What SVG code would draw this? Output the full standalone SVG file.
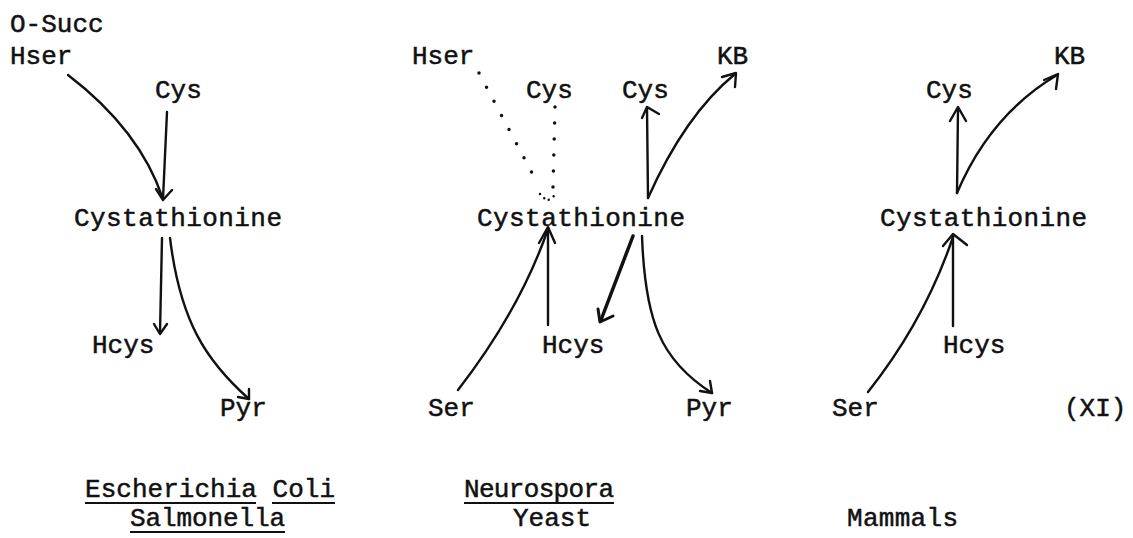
<svg xmlns="http://www.w3.org/2000/svg" width="1133" height="538" viewBox="0 0 1133 538">
<style>
text{font-family:"Liberation Mono","DejaVu Sans Mono",monospace;font-size:26px;fill:#111;stroke:#111;stroke-width:0.5}
.c{fill:none;stroke:#111;stroke-width:2.4;stroke-linecap:round;stroke-linejoin:round}
.d{fill:none;stroke:#111;stroke-width:3.5;stroke-linecap:round;stroke-dasharray:0 16}
.u{stroke:#111;stroke-width:2}
</style>
<rect width="1133" height="538" fill="#fff"/>
<g id="ecoli">
<g id="n-osucc"><text x="10" y="32">O-Succ</text><text x="10" y="64">Hser</text></g>
<g id="n-cys1"><text x="155" y="98">Cys</text></g>
<g id="n-cysta1"><text x="74" y="226" textLength="208">Cystathionine</text></g>
<g id="n-hcys1"><text x="92" y="353">Hcys</text></g>
<g id="n-pyr1"><text x="220" y="416">Pyr</text></g>
<g id="n-lab1"><text x="85" y="497" textLength="250">Escherichia Coli</text>
<line class="u" x1="85" y1="503" x2="256" y2="503"/><line class="u" x1="272" y1="503" x2="335" y2="503"/>
<text x="130" y="526" textLength="155">Salmonella</text>
<line class="u" x1="130" y1="532" x2="285" y2="532"/></g>
</g>
<g id="neurospora">
<g id="n-hser2"><text x="412" y="64">Hser</text></g>
<g id="n-cys2a"><text x="526" y="98">Cys</text></g>
<g id="n-cys2b"><text x="622" y="98">Cys</text></g>
<g id="n-kb2"><text x="717" y="64">KB</text></g>
<g id="n-cysta2"><text x="477" y="226" textLength="208">Cystathionine</text></g>
<g id="n-hcys2"><text x="542" y="353">Hcys</text></g>
<g id="n-ser2"><text x="428" y="416">Ser</text></g>
<g id="n-pyr2"><text x="686" y="416">Pyr</text></g>
<g id="n-lab2"><text x="464" y="497" textLength="150">Neurospora</text>
<line class="u" x1="464" y1="503" x2="614" y2="503"/>
<text x="513" y="526">Yeast</text></g>
</g>
<g id="mammals">
<g id="n-cys3"><text x="926" y="98">Cys</text></g>
<g id="n-kb3"><text x="1054" y="64">KB</text></g>
<g id="n-cysta3"><text x="880" y="226" textLength="207">Cystathionine</text></g>
<g id="n-hcys3"><text x="943" y="353">Hcys</text></g>
<g id="n-ser3"><text x="832" y="416">Ser</text></g>
<g id="n-xi"><text x="1064" y="416">(XI)</text></g>
<g id="n-lab3"><text x="847" y="526" textLength="111">Mammals</text></g>
</g>
<g id="connectors">
<!-- E. coli -->
<path class="c" d="M68,75 Q140,130 163,199"/>
<path class="c" d="M167,112 L163,199"/>
<path class="c" d="M156,189 L163,200 L172,190"/>
<path class="c" d="M162,238 L160,333"/>
<path class="c" d="M154,324 L160,334 L167,324"/>
<path class="c" d="M170,238 C180,320 205,360 249,399"/>
<path class="c" d="M238,397 L249,399 L249,389"/>
<!-- Neurospora -->
<path class="d" d="M479,73 L539,186"/>
<path class="d" d="M555,107 L553,187"/>
<path fill="none" stroke="#111" stroke-width="2.5" stroke-linecap="round" stroke-dasharray="0 6" d="M540,194 L547,201 L557,194"/>
<path class="c" d="M458,390 Q520,310 548,229"/>
<path class="c" d="M548,325 L548,229"/>
<path class="c" d="M539,243 L548,227 L555,243"/>
<path class="c" d="M648,198 L647,108"/>
<path class="c" d="M642,118 L647,107 L659,114"/>
<path class="c" d="M648,198 Q685,115 735,74"/>
<path class="c" d="M722,77 L736,73 L735,87"/>
<path class="c" style="stroke-width:3.5" d="M633,236 L601,320"/>
<path class="c" style="stroke-width:3" d="M598,309 L600,322 L613,316"/>
<path class="c" d="M642,236 C645,320 660,360 712,393"/>
<path class="c" d="M700,391 L712,393 L710,381"/>
<!-- Mammals -->
<path class="c" d="M957,193 L958,108"/>
<path class="c" d="M950,121 L958,107 L966,121"/>
<path class="c" d="M957,193 Q990,115 1057,75"/>
<path class="c" d="M1044,80 L1058,74 L1056,89"/>
<path class="c" d="M868,392 Q925,320 953,237"/>
<path class="c" d="M953,326 L953,237"/>
<path class="c" d="M943,246 L953,234 L967,245"/>
</g>
</svg>
